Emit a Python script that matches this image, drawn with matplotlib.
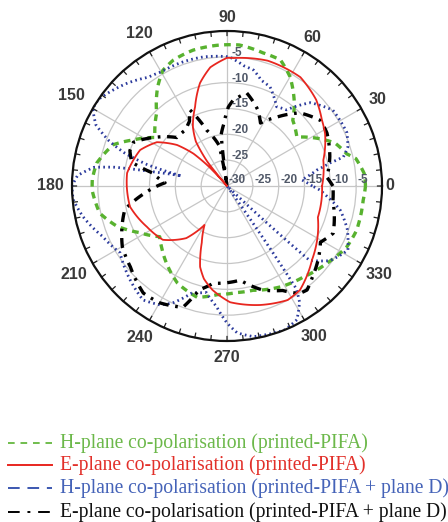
import numpy as np
import matplotlib
matplotlib.use("Agg")
import matplotlib.pyplot as plt
from matplotlib.lines import Line2D

# ---------------- data (angle in degrees, level in dB) ----------------
red_ang = [0, 15, 28, 35, 44, 56, 72, 87, 90, 98, 104.7, 112, 120, 125, 129, 131,
           133, 136, 140.6, 148, 157.5, 172.6, 180, 192, 207, 220, 232, 240, 246,
           251.6, 256, 262, 271.5, 285.5, 298, 305, 319, 341, 360]
red_db = [-11.6, -10.7, -8.5, -7.6, -6.0, -4.6, -4.5, -5.2, -5.2, -6.8, -9.4, -13.5,
          -16.8, -19.5, -24, -30, -25, -21, -17.5, -14, -11.8, -10.5, -10.6, -10.8,
          -12.6, -13.8, -17.2, -21.3, -18, -13.5, -11.5, -9.7, -7.5, -6.1, -5.0,
          -5.4, -8.2, -11.4, -11.6]

green_ang = [0, 5, 12, 15, 21.7, 28, 35, 45, 51, 60, 67, 75, 85, 94, 104, 113, 119,
             125, 134, 146, 154, 160, 170, 177, 182, 192, 200, 208, 217, 224, 232,
             243, 255, 265, 275, 284, 298, 310, 322, 333, 341, 354, 360]
green_db = [-3.2, -3.3, -4.5, -6.0, -7.5, -10.3, -13.5, -12.0, -9.3, -5.6, -3.5, -3.3,
            -2.6, -2.7, -2.9, -3.5, -4.4, -6.6, -10.4, -13.2, -9.7, -6.6, -4.4, -3.9,
            -3.9, -4.8, -7.3, -10.8, -13.7, -12.5, -11.0, -8.9, -7.7, -8.9, -9.3,
            -9.2, -7.9, -7.0, -5.6, -4.0, -3.5, -3.5, -3.2]

blue_ang = [0, 4.7, 10, 12.6, 14, 18, 24, 35.6, 45, 52, 58, 66.5, 72, 77, 82, 89,
            100.5, 111, 120, 126, 134, 146, 150, 155, 159, 162, 165, 167.5, 169,
            170.5, 172, 176, 180, 185, 192, 202, 212, 224, 233.6, 240.6, 245, 252,
            259, 265, 270, 274, 280, 292, 297.6, 302, 304, 305.5, 316.5, 318, 324,
            332, 340, 348, 354, 357.5, 360]
blue_db = [-13.5, -15.5, -12.4, -9.6, -6.8, -5.4, -4.6, -4.8, -7.2, -11.3, -11.9,
           -9.1, -8.5, -7.0, -6.5, -5.0, -4.6, -4.5, -4.5, -4.0, -2.3, 0.0, 0.0,
           -2.0, -5.5, -9.0, -14.0, -21.0, -16.0, -8.0, -4.0, -1.0, 0.0, -0.1,
           -1.5, -4.0, -5.6, -3.9, -2.6, -3.6, -5.0, -8.3, -9.0, -6.6, -3.5, -1.5,
           -0.4, 0.0, -0.8, -3.5, -6.0, -30, -30, -8.5, -5.4, -3.5, -5.2, -7.6,
           -10.5, -12.0, -13.5]

black_ang = [0, 5, 16, 28, 35, 45, 54, 62, 68, 78, 86, 89, 93, 96.5, 98.5, 101,
             110, 116, 120, 126, 136, 145, 151, 155, 160, 166, 170, 177, 185, 193,
             210, 220, 232, 240, 250, 255, 262, 268, 278, 289, 298, 304, 307.6, 313,
             322, 329, 336, 345, 352, 360]
black_db = [-9.5, -10.6, -9.3, -8.1, -7.9, -10.0, -13.5, -16.2, -14.1, -11.6, -13.4,
            -14.7, -18.0, -20.0, -30, -22.0, -18.5, -13.6, -15.5, -16.5, -16.5,
            -13.5, -11.4, -10.0, -10.0, -11.0, -15.3, -18.0, -14.0, -9.7, -6.6,
            -5.6, -3.7, -3.9, -5.0, -9.2, -11.0, -11.2, -11.6, -8.7, -7.1, -4.9,
            -4.6, -5.8, -7.5, -8.9, -7.5, -8.5, -9.3, -9.5]

angle_ticks = [0, 30, 60, 90, 120, 150, 180, 210, 240, 270, 300, 330]
ring_ticks = [-30, -25, -20, -15, -10, -5]

legend_labels = ["H-plane co-polarisation (printed-PIFA)",
                 "E-plane co-polarisation (printed-PIFA)",
                 "H-plane co-polarisation (printed-PIFA + plane D)",
                 "E-plane co-polarisation (printed-PIFA + plane D)"]

# ---------------- figure ----------------
W, H = 448, 522
fig = plt.figure(figsize=(W / 100, H / 100), dpi=100)
cx, cy, R = 227, 186, 155
ax = fig.add_axes([(cx - R) / W, (H - cy - R) / H, 2 * R / W, 2 * R / H],
                  projection="polar")
ax.set_theta_zero_location("E")
ax.set_theta_direction(1)
ax.set_rlim(-30, 0)
px2db = 30.0 / R

ax.set_xticks(np.deg2rad(angle_ticks))
ax.set_xticklabels([])
ax.tick_params(axis="x", which="both", length=0)
ax.set_yticks([-25, -20, -15, -10, -5])
ax.set_yticklabels([])
ax.grid(True, color="#c6c6c6", lw=0.9, ls="-")
ax.spines["polar"].set_color("#111111")
ax.spines["polar"].set_linewidth(1.6)

# small inward tick marks on the outer circle every 6 degrees
tk = np.deg2rad(np.arange(0, 360, 6))
tth = np.repeat(tk, 3)
trr = np.tile([-4.5 * px2db, 0.0, np.nan], len(tk))
ax.plot(tth, trr, color="#222222", lw=0.9, clip_on=False)


def plot_series(ang, db, **kw):
    th = np.deg2rad(np.asarray(ang, float))
    r = np.clip(np.asarray(db, float), -30, 0)
    line, = ax.plot(th, r, **kw)
    line.get_path()._interpolation_steps = 60
    return line


green = "#58b22f"
red = "#e8261f"
blue = "#2b3a9c"
plot_series(green_ang, green_db, color=green, lw=2.4, ls=(0, (2.0, 1.6)))
plot_series(blue_ang, blue_db, color=blue, lw=2.0, ls=(0, (0.6, 1.2)))
plot_series(black_ang, black_db, color="black", lw=2.4, ls=(0, (3.0, 2.0, 0.8, 2.0)))
plot_series(red_ang, red_db, color=red, lw=1.3, ls="-")

# angle labels (distance of label centre from the centre, pixels)
label_dist = {0: 163, 30: 174, 60: 171, 90: 169, 120: 176, 150: 180, 180: 177,
              210: 177, 240: 175, 270: 171, 300: 174, 330: 176}
for a in angle_ticks:
    ax.text(np.deg2rad(a), (label_dist[a] - R) * px2db, str(a), ha="center",
            va="center", fontsize=11.5, color="#3a3a3a", family="Liberation Sans",
            fontweight="bold", clip_on=False)

# radial labels (vertical and horizontal)
for v in ring_ticks:
    lbl = "%d" % v
    if v > -30:
        ax.annotate(lbl, xy=(np.pi / 2, v), xytext=(3.5, 3), textcoords="offset points",
                    ha="left", va="center", fontsize=8.5, color="#505868",
                    family="Liberation Sans", fontweight="bold")
    ax.annotate(lbl, xy=(0, v), xytext=(1, 4), textcoords="offset points",
                ha="left", va="center", fontsize=8.5, color="#505868",
                family="Liberation Sans", fontweight="bold")

# ---------------- legend (drawn manually) ----------------
rows_y = [443, 465, 488, 512]
txt_colors = ["#6cb84a", "#e2302a", "#4563b8", "#111111"]
line_specs = [
    dict(color=green, lw=1.2, ls=(0, (4, 3.5))),
    dict(color=red, lw=1.4, ls="-"),
    dict(color="#3b57b0", lw=1.4, ls=(0, (6, 4))),
    dict(color="black", lw=1.4, ls=(0, (6, 4, 1.5, 4))),
]
for y, lab, tc, spec in zip(rows_y, legend_labels, txt_colors, line_specs):
    fy = 1 - y / H
    fig.add_artist(Line2D([8 / W, 52 / W], [fy, fy], transform=fig.transFigure, **spec))
    fig.text(60 / W, fy, lab, ha="left", va="center", fontsize=14.1,
             family="Liberation Serif", color=tc)

fig.savefig("out.png", dpi=100)
